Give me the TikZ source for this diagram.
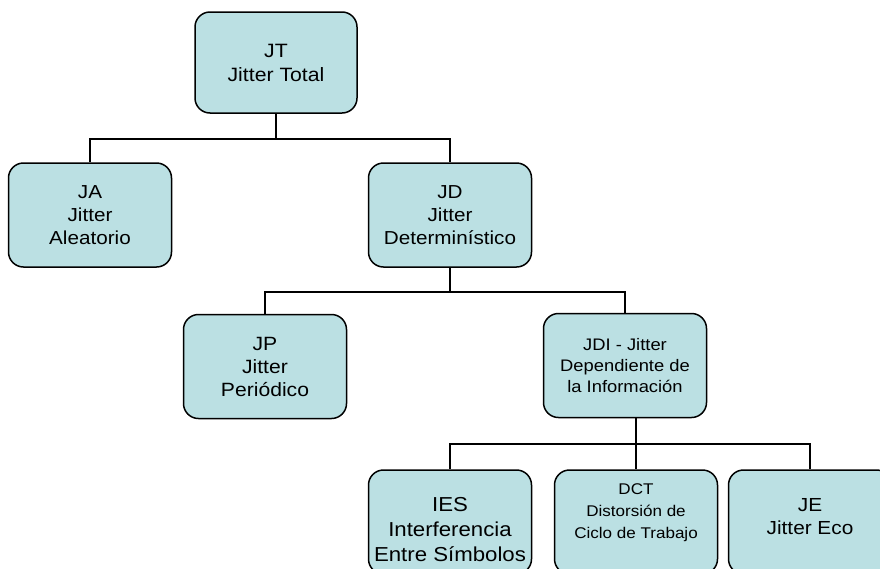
\documentclass[tikz,border=0pt]{standalone}
\usepackage{fontspec}
\setmainfont{Liberation Sans}[FakeStretch=1.1]
\definecolor{boxfill}{RGB}{187,224,227}
\begin{document}
\begin{tikzpicture}[x=1pt,y=-1pt,
  box/.style={draw=black, line width=1.5pt, fill=boxfill, rounded corners=15pt,
    minimum width=163pt, minimum height=104pt, inner sep=0pt, align=center},
  conn/.style={line width=1.5pt, black},
  txt/.style={inner sep=0pt, align=center}]
\clip (0,0) rectangle (880,568);
% top
\node[box, minimum width=162pt, minimum height=101pt, font=\fontsize{19.3}{24}\selectfont] (JT) at (276,62.5) {JT\\Jitter Total};
\node[box, font=\fontsize{18.8}{23}\selectfont] (JA) at (90,215) {JA\\Jitter\\Aleatorio};
\node[box, font=\fontsize{18.8}{23}\selectfont] (JD) at (450,215) {JD\\Jitter\\Determinístico};
\node[box, font=\fontsize{19.2}{23}\selectfont] (JP) at (265,366.5) {JP\\Jitter\\Periódico};
\node[box, font=\fontsize{16.7}{21}\selectfont] (JDI) at (625,365.5) {JDI - Jitter\\Dependiente de\\la Información};
% bottom row
\node[box] (IES) at (450,522) {};
\node[box] (DCT) at (636,522) {};
\node[box] (JE) at (810,522) {};
\node[txt, font=\fontsize{20.2}{25}\selectfont] (IEStext) at (450,530) {IES\\Interferencia\\Entre Símbolos};
\node[txt, font=\fontsize{15.5}{22}\selectfont] (DCTtext) at (636,513) {DCT\\Distorsión de\\Ciclo de Trabajo};
\node[txt, font=\fontsize{18.9}{23}\selectfont] (JEtext) at (810,516.5) {JE\\Jitter Eco};
% branch points
\coordinate (b1) at (276,139);
\coordinate (b2) at (450,292);
\coordinate (b3) at (636,444);
\draw[conn] (JT.south) -- (b1) -| (JA.north);
\draw[conn] (b1) -| (JD.north);
\draw[conn] (JD.south) -- (b2) -| (JP.north);
\draw[conn] (b2) -| (JDI.north);
\draw[conn] (b3 |- JDI.south) -- (b3) -| (IES.north);
\draw[conn] (b3) -- (DCT.north);
\draw[conn] (b3) -| (JE.north);
\end{tikzpicture}
\end{document}
